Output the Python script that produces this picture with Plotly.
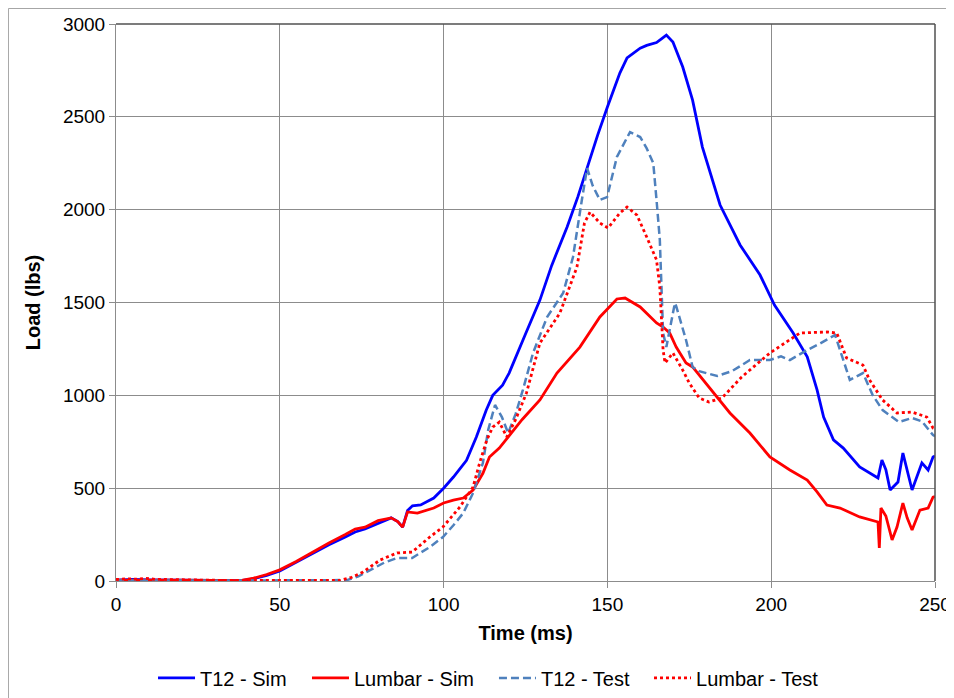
import plotly.graph_objects as go

# ---------------- data ----------------
t12_sim_t = [0, 5, 10, 20, 30, 38, 42, 46, 50, 55, 60, 65, 70, 73, 76, 80, 84, 86, 87.5, 89, 90.5, 93, 97, 100,
             103, 107, 110, 113, 115, 118, 120, 125, 129.4, 133, 137.7, 141, 143.8, 147, 150, 153.8, 156, 160,
             162, 164, 165, 166.5, 168, 170, 173, 176, 179, 184.4, 190.5, 196.6, 201, 206.7, 211, 214, 216, 219,
             222, 227, 232.6, 233.8, 235, 236.3, 238.7, 240.2, 241.5, 243, 246, 247.9, 249.4, 250]
t12_sim_v = [5, 8, 6, 4, 3, 2, 12, 30, 54, 100, 150, 195, 237, 264, 280, 312, 340, 320, 290, 380, 405, 410, 447, 500,
             560, 650, 776, 920, 1000, 1055, 1120, 1330, 1513, 1700, 1907, 2070, 2230, 2400, 2553, 2736, 2817, 2870,
             2885, 2897, 2900, 2920, 2940, 2903, 2768, 2590, 2337, 2025, 1810, 1648, 1486, 1336, 1207, 1029, 883, 760,
             716, 614, 555, 652, 600, 490, 533, 689, 590, 490, 636, 598, 668, 673]

lum_sim_t = [0, 10, 20, 30, 38, 42, 46, 50, 55, 60, 65, 70, 73, 76, 80, 84, 86, 87.5, 89, 92, 97, 100, 103, 106,
             109, 112, 114, 117, 119, 124, 129.4, 134.6, 141.6, 147.7, 152.9, 155.4, 160, 165, 167, 169, 171, 174,
             176, 181, 187.4, 193.5, 199.6, 205.7, 211, 214, 217, 221, 227, 232.6, 233, 233.5, 235, 236.9, 238.4,
             240.2, 241.5, 243, 245.4, 247.9, 249.4, 250]
lum_sim_v = [5, 6, 4, 3, 2, 15, 35, 60, 105, 155, 205, 250, 280, 290, 325, 340, 320, 290, 372, 366, 393, 420, 436, 447,
             490, 580, 668, 716, 760, 870, 975, 1120, 1260, 1422, 1519, 1524, 1476, 1390, 1368, 1336, 1260, 1174,
             1153, 1045, 905, 797, 668, 598, 544, 480, 409, 393, 345, 318, 178, 393, 350, 221, 291,
             420, 340, 275, 382, 393, 452, 455]

t12_test_t = [0, 10, 20, 30, 40, 50, 60, 68, 70.5, 74, 77.5, 82, 85.8, 90.4, 95.8, 99.8, 103, 106, 109, 112, 113.6,
              115.7, 117.8, 119.7, 122, 124.2, 127.3, 131.6, 136.5, 139.5, 142.2, 143.8, 145.5, 147.7, 149.9, 152.9,
              156.9, 160, 162, 164, 165, 166, 167, 168, 170.6, 171, 174, 176, 178, 183.5, 188, 193.5, 199.6, 203,
              205.7, 211, 215, 219.5, 224, 228, 231, 234, 239, 243, 246, 249.4, 250]
t12_test_v = [3, 5, 3, 2, 2, 2, 2, 3, 5, 25, 59, 100, 124, 124, 183, 237, 300, 366, 474, 636, 813,
              948, 883, 797, 900, 1029, 1228, 1422, 1551, 1745, 2052, 2224, 2130, 2052, 2068, 2284,
              2418, 2391, 2330, 2251, 2052, 1837, 1336, 1260, 1497, 1480, 1298, 1153, 1130, 1104, 1130, 1190, 1190, 1210,
              1190, 1244, 1280, 1325, 1083, 1120, 1000, 921, 856, 878, 860, 786, 780]

lum_test_t = [0, 3, 6, 9, 12, 20, 30, 40, 50, 60, 66, 68.4, 72, 75.4, 80.6, 85.8, 90.4, 95.8, 99.8, 105, 109, 111,
              113.2, 115, 117, 119.3, 122, 125.3, 129.4, 135.5, 140.7, 143, 144.7, 147.7, 150.2, 153.8, 156, 159,
              162, 165, 166, 167, 167.6, 170, 173, 175, 178, 181, 185, 191, 199.6, 208.8, 217, 220, 223, 228, 230,
              234, 238.4, 243, 247.5, 249.4, 250]
lum_test_v = [8, 12, 10, 14, 9, 6, 4, 3, 2, 2, 2, 3, 20, 48, 113, 151, 156, 237, 291, 399, 506, 636,
              760, 829, 856, 776, 870, 1013, 1282, 1443, 1691, 1928, 1987, 1928, 1901, 1982, 2014, 1971,
              1853, 1729, 1583, 1244, 1174, 1228, 1136, 1066, 986, 964, 986, 1099, 1228, 1336, 1341, 1336, 1201, 1163, 1083,
              975, 905, 910, 883, 824, 820]

x_ticks = [0, 50, 100, 150, 200, 250]
y_ticks = [0, 500, 1000, 1500, 2000, 2500, 3000]

FONT = "Liberation Sans, Arial, sans-serif"
GRID = "#8C8C8C"

fig = go.Figure()
fig.add_trace(go.Scatter(x=t12_sim_t, y=t12_sim_v, mode="lines", name="T12 - Sim", legend="legend",
                         showlegend=True, line=dict(color="#0000FF", width=2.8)))
fig.add_trace(go.Scatter(x=lum_sim_t, y=lum_sim_v, mode="lines", name="Lumbar - Sim", legend="legend2",
                         showlegend=True, line=dict(color="#FF0000", width=2.8)))
fig.add_trace(go.Scatter(x=t12_test_t, y=t12_test_v, mode="lines", name="T12 - Test", legend="legend3",
                         showlegend=True, line=dict(color="#4F81BD", width=2.5, dash="8px,4px")))
fig.add_trace(go.Scatter(x=lum_test_t, y=lum_test_v, mode="lines", name="Lumbar - Test", legend="legend4",
                         showlegend=True, line=dict(color="#FF0000", width=2.8, dash="3px,3px")))

def leg(x):
    return dict(orientation="h", x=x, xanchor="left", y=-0.174, yanchor="middle",
                font=dict(size=20), itemwidth=37, bgcolor="rgba(0,0,0,0)", visible=True)

# page body has an 8px margin; the figure is shifted accordingly
fig.update_layout(
    width=946, height=690,
    showlegend=True,
    margin=dict(l=108, r=19, t=16, b=117, autoexpand=False),
    paper_bgcolor="white", plot_bgcolor="white",
    font=dict(family=FONT, size=19, color="#000"),
    legend=leg(0.0452), legend2=leg(0.2332), legend3=leg(0.4615), legend4=leg(0.6508),
    shapes=[
        # outer chart frame (top and left edges visible in the picture)
        dict(type="line", xref="paper", yref="paper", x0=-0.1313, x1=1.1, y0=1.0278, y1=1.0278,
             line=dict(color="#A6A6A6", width=1), layer="below"),
        dict(type="line", xref="paper", yref="paper", x0=-0.1313, x1=-0.1313, y0=-0.3, y1=1.0278,
             line=dict(color="#A6A6A6", width=1), layer="below"),
        # darker top/right plot-area border
        dict(type="line", xref="paper", yref="paper", x0=0, x1=1, y0=1, y1=1,
             line=dict(color="#505050", width=1.5)),
        dict(type="line", xref="paper", yref="paper", x0=1, x1=1, y0=0, y1=1,
             line=dict(color="#505050", width=1.5)),
    ],
)
fig.update_xaxes(range=[0, 250], tickvals=x_ticks, showgrid=True, gridcolor=GRID, gridwidth=1,
                 showline=True, linecolor=GRID, mirror=False, ticks="outside", ticklen=6,
                 tickcolor=GRID, zeroline=False, automargin=False,
                 title=dict(text="<b>Time (ms)</b>", font=dict(size=20), standoff=12),
                 tickfont=dict(size=19))
fig.update_yaxes(range=[0, 3000], tickvals=y_ticks, showgrid=True, gridcolor=GRID, gridwidth=1,
                 showline=True, linecolor=GRID, mirror=False, ticks="outside", ticklen=6,
                 tickcolor=GRID, zeroline=False, automargin=False,
                 title=dict(text="<b>Load (lbs)</b>", font=dict(size=20), standoff=16),
                 tickfont=dict(size=19))

fig.write_html("out.html")
